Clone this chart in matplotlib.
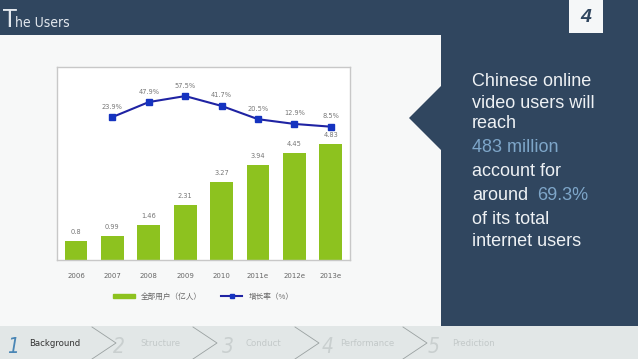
import matplotlib
matplotlib.use('Agg')
import matplotlib.pyplot as plt
from matplotlib.patches import Rectangle, Polygon
from matplotlib.lines import Line2D
import numpy as np

# ---- data ----
years = ['2006', '2007', '2008', '2009', '2010', '2011e', '2012e', '2013e']
users = [0.8, 0.99, 1.46, 2.31, 3.27, 3.94, 4.45, 4.83]          # 亿人
growth = [None, 23.9, 47.9, 57.5, 41.7, 20.5, 12.9, 8.5]          # %
user_labels = ['0.8', '0.99', '1.46', '2.31', '3.27', '3.94', '4.45', '4.83']
legend_labels = ['全部用户（亿人）', '增长率（%）']

steps = ['Background', 'Structure', 'Conduct', 'Performance', 'Prediction']
side_lines = ['Chinese online', 'video users will', 'reach', '483 million',
              'account for', 'around 69.3%', 'of its total', 'internet users']

NAVY = '#30465f'
PANEL = '#f7f8f8'
GREEN = '#8dc21f'
LINEBLUE = '#1f23a3'
HILITE = '#7ea6c9'
CJK = ['Noto Sans CJK SC', 'DejaVu Sans']
NARROW = dict(family='DejaVu Sans', stretch='condensed')

fig = plt.figure(figsize=(6.38, 3.59), dpi=100)
fig.patch.set_facecolor(NAVY)

# background layer in pixel coordinates (origin top-left)
bg = fig.add_axes([0, 0, 1, 1], zorder=0)
bg.set_xlim(0, 638)
bg.set_ylim(359, 0)
bg.axis('off')

bg.add_patch(Rectangle((0, 35), 441, 291, color=PANEL, lw=0))
bg.add_patch(Polygon([(441, 86), (409, 118), (441, 150)], closed=True, color=NAVY, lw=0))
bg.add_patch(Rectangle((0, 326), 638, 33, color='#e2e7e7', lw=0))
bg.add_patch(Rectangle((569, 0), 34, 33, color='#f5f7f8', lw=0))

# header
bg.text(3, 27, 'T', fontsize=18, color='#e3e8ee', va='baseline', **NARROW)
bg.text(15, 27, 'he Users', fontsize=10, color='#e3e8ee', va='baseline', **NARROW)
bg.text(586, 17, '4', fontsize=14, color=NAVY, fontweight='bold', style='italic',
        ha='center', va='center', family='Liberation Sans')

# right side text
ys = [82, 103, 124, 148, 172, 195, 220, 242]
for y, s in zip(ys, side_lines):
    if s == '483 million':
        bg.text(472, y, s, fontsize=13, color=HILITE, va='center', family='Liberation Sans')
    elif s.startswith('around'):
        bg.text(472, y, 'around', fontsize=13, color='#eef1f4', va='center', family='Liberation Sans')
        bg.text(537, y, s.split()[1], fontsize=13, color=HILITE, va='center', family='Liberation Sans')
    else:
        bg.text(472, y, s, fontsize=13, color='#eef1f4', va='center', family='Liberation Sans')

# bottom navigation
num_x = [7, 113, 222, 322, 428]
txt_x = [29, 140, 246, 340, 452]
chev_x = [92, 193, 295, 403]
for i, s in enumerate(steps):
    col_n = '#4a86b5' if i == 0 else '#c9cfcf'
    col_t = '#333333' if i == 0 else '#c3c9c9'
    bg.text(num_x[i], 353, str(i + 1), fontsize=15, color=col_n, style='italic',
            va='baseline', **NARROW)
    bg.text(txt_x[i], 343, s, fontsize=6.8, color=col_t, va='center', **NARROW)
for cx in chev_x:
    bg.plot([cx, cx + 24, cx], [327, 343, 359], color='#9aa1a1', lw=0.6)

# ---- chart ----
ax = fig.add_axes([57 / 638, 99 / 359, 293 / 638, 193 / 359], zorder=2)
ax.set_facecolor('white')
x = np.arange(len(years))
ax.bar(x, users, width=0.63, color=GREEN, zorder=2)
for xi, v, lab in zip(x, users, user_labels):
    ax.text(xi, v + 0.25, lab, ha='center', va='bottom', fontsize=4.8, color='#777777')
ax.set_xlim(-0.522, 7.527)
ax.set_ylim(0, 8.04)
ax.set_yticks([])
ax.set_xticks(x)
ax.set_xticklabels(years, fontsize=5, color='#666666')
ax.tick_params(axis='x', length=0, pad=9)
for sp in ax.spines.values():
    sp.set_color('#c8c8c8')
    sp.set_linewidth(1)

ax2 = ax.twinx()
gx = [xi for xi, g in zip(x, growth) if g is not None]
gy = [g for g in growth if g is not None]
ax2.plot(gx, gy, color=LINEBLUE, lw=1.5, marker='s', markersize=4,
         markerfacecolor='#1533c0', markeredgecolor='#1533c0', zorder=3)
for xi, g in zip(gx, gy):
    ax2.text(xi, g + 12, f'{g}%', ha='center', va='bottom', fontsize=4.8, color='#777777')
ax2.set_ylim(-204.8, 104)
ax2.set_yticks([])
ax2.set_xlim(-0.522, 7.527)
for sp in ax2.spines.values():
    sp.set_visible(False)

# legend drawn below the chart
handles = [Rectangle((0, 0), 1, 1, color=GREEN),
           Line2D([0], [0], color=LINEBLUE, lw=1.5, marker='s', markersize=3,
                  markerfacecolor='#1533c0', markeredgecolor='#1533c0')]
leg = ax.legend(handles, legend_labels, loc='center', bbox_to_anchor=(0.5, -0.19),
                ncol=2, frameon=False, prop={'family': CJK, 'size': 5.5},
                handlelength=2.8, handleheight=0.6, columnspacing=2.5,
                labelcolor='#666666')

fig.savefig('out.png', dpi=100, facecolor=NAVY)
